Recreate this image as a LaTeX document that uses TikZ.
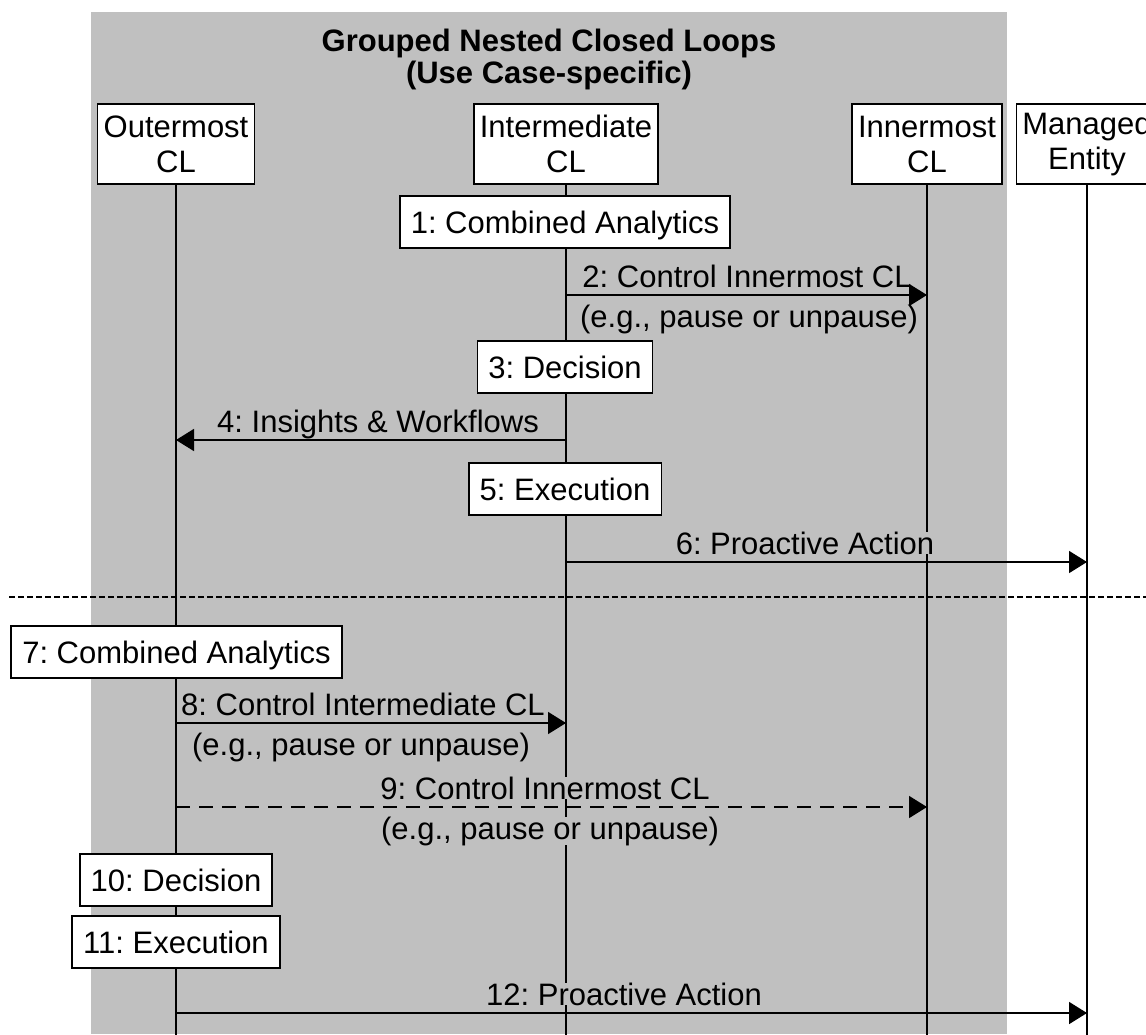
\documentclass[tikz,border=0pt]{standalone}
\usepackage{fontspec}
\setmainfont{Liberation Sans}
\usetikzlibrary{arrows.meta}
\definecolor{bggray}{RGB}{192,192,192}
\begin{document}
\frenchspacing
\begin{tikzpicture}[x=1pt,y=-1pt,
  font=\fontsize{31}{35}\selectfont,
  head/.style={draw, fill=white, line width=1.6pt, align=center, minimum height=80pt, inner xsep=6pt, inner ysep=0pt},
  stepbox/.style={draw, fill=white, line width=1.6pt, minimum height=52pt, inner xsep=11pt, inner ysep=0pt, text height=22pt, text depth=0pt},
  lifeline/.style={line width=1.6pt},
  msg/.style={line width=1.6pt, -{Triangle[length=18pt,width=22pt]}},
  lbl/.style={fill=bggray, inner sep=0pt, anchor=base},
  ttl/.style={font=\fontsize{31}{35}\selectfont\bfseries, anchor=base, inner sep=0pt}
]
\useasboundingbox (0,0) rectangle (1146,1034);
\clip (0,0) rectangle (1146,1034);
\fill[white] (0,0) rectangle (1146,1034);
\fill[bggray] (91,12) rectangle (1007,1034);

% title
\node[ttl] (t1) at (549,51) {Grouped Nested Closed Loops};
\node[ttl] (t2) at (549,83) {(Use Case-specific)};

% heads
\node[head] (out) at (176,144) {Outermost\\CL};
\node[head] (int) at (566,144) {Intermediate\\CL};
\node[head] (inn) at (927,144) {Innermost\\CL};
\node[head] (man) at (1087,144) {Managed\\Entity};

% lifeline ends
\coordinate (outE) at (176,1040);
\coordinate (intE) at (566,1040);
\coordinate (innE) at (927,1040);
\coordinate (manE) at (1087,1040);
\draw[lifeline] (out.south) -- (outE);
\draw[lifeline] (int.south) -- (intE);
\draw[lifeline] (inn.south) -- (innE);
\draw[lifeline] (man.south) -- (manE);

% separator
\coordinate (sepL) at (9,597);
\coordinate (sepR) at (1146,597);
\draw[line width=1.2pt, dash pattern=on 6pt off 3pt] (sepL) -- (sepR);

% rows
\coordinate (r2) at (0,295);
\coordinate (r4) at (0,440);
\coordinate (r6) at (0,562);
\coordinate (r8) at (0,723);
\coordinate (r9) at (0,807);
\coordinate (r12) at (0,1013);

% labels
\node[lbl] (l2a) at (747,287) {2: Control Innermost CL};
\node[lbl] (l2b) at (749,327) {(e.g., pause or unpause)};
\node[lbl] (l4) at (378,432) {4: Insights \& Workflows};
\node[lbl] (l6) at (805,554) {6: Proactive Action};
\node[lbl] (l8a) at (363,715) {8: Control Intermediate CL};
\node[lbl] (l8b) at (361,755) {(e.g., pause or unpause)};
\node[lbl] (l9a) at (545,799) {9: Control Innermost CL};
\node[lbl] (l9b) at (550,839) {(e.g., pause or unpause)};
\node[lbl] (l12) at (624,1005) {12: Proactive Action};

% messages
\draw[msg] (int |- r2) -- (inn |- r2);
\draw[msg] (int |- r4) -- (out |- r4);
\draw[msg] (int |- r6) -- (man |- r6);
\draw[msg] (out |- r8) -- (int |- r8);
\draw[msg, dash pattern=on 14pt off 9pt] (out |- r9) -- (inn |- r9);
\draw[msg] (out |- r12) -- (man |- r12);

% step boxes
\node[stepbox] (s1) at (565,222) {1: Combined Analytics};
\node[stepbox] (s3) at (565,367) {3: Decision};
\node[stepbox] (s5) at (565,489) {5: Execution};
\node[stepbox] (s7) at (176.5,652) {7: Combined Analytics};
\node[stepbox] (s10) at (176,880) {10: Decision};
\node[stepbox] (s11) at (176,942) {11: Execution};
\end{tikzpicture}
\end{document}
